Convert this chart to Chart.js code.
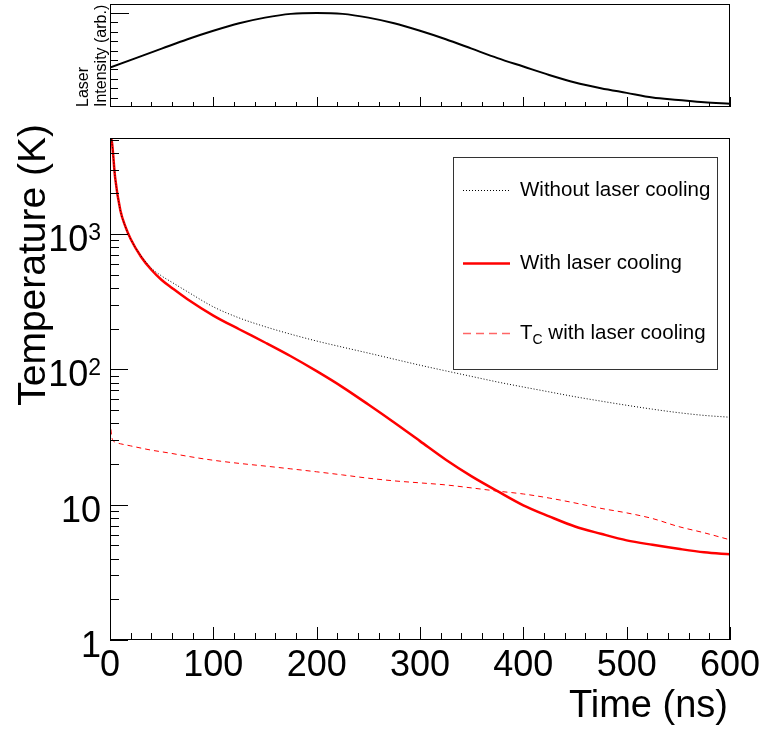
<!DOCTYPE html>
<html lang="en">
<head>
    <meta charset="UTF-8">
    <title>Laser cooling temperature</title>
    <style>
        body { margin: 0; background: #fff; }
        .wrap { position: relative; width: 768px; height: 731px; }
        canvas { position: absolute; left: 0; top: 0; }
    </style>
    <script src="https://cdn.jsdelivr.net/npm/chart.js"></script>
</head>
<body>
<div class="wrap">
    <canvas id="main-chart" width="768" height="731"></canvas>
    <canvas id="laser-chart" width="768" height="115"></canvas>
</div>
<script>
    // time grid (ns) and temperatures (K)
    const timeNs = [0, 2, 5, 10, 15, 20, 30, 40, 50, 60, 75, 100, 125, 150, 175, 200, 225, 250, 275, 300,
                    325, 350, 375, 400, 425, 450, 475, 500, 525, 550, 575, 600];
    const tempWithout = [5600, 4700, 2600, 1500, 1130, 920, 690, 560, 490, 440, 375, 290, 240, 207, 182, 162,
                         146, 132, 119, 107.4, 97.5, 88.7, 80.7, 74.1, 68.2, 62.8, 58.3, 54.3, 50.8, 47.9, 45.7, 44.3];
    const tempWith = [5600, 4700, 2600, 1500, 1130, 920, 680, 545, 458, 400, 330, 250, 198, 158, 125, 97,
                      74, 55, 40.5, 29.5, 21.5, 16.2, 12.6, 9.9, 8.2, 6.9, 6.1, 5.45, 5.05, 4.72, 4.45, 4.3];
    const tempTc = [42, 31, 29, 28.2, 27.7, 27.2, 26.2, 25.3, 24.6, 23.9, 22.8, 21.3, 20.2, 19.3, 18.4, 17.5,
                    16.6, 15.7, 15.0, 14.5, 14.0, 13.3, 12.6, 12.0, 11.2, 10.3, 9.4, 8.7, 7.9, 6.9, 6.2, 5.5];

    // laser intensity pulse (arb.), top panel
    const laserTime = [0, 25, 50, 75, 100, 125, 150, 175, 200, 225, 250, 275, 300, 325, 350, 375, 400,
                       425, 450, 475, 500, 525, 550, 575, 600];
    const laserIntensity = [0.42, 0.52, 0.62, 0.72, 0.81, 0.89, 0.95, 0.99, 1.0, 0.99, 0.95, 0.89, 0.81,
                            0.72, 0.62, 0.52, 0.43, 0.34, 0.26, 0.20, 0.15, 0.10, 0.075, 0.05, 0.035];

    const xTickValues = [0, 100, 200, 300, 400, 500, 600];
    const yTickValues = [1, 10, 100, 1000];
    const yTickBase = ['1', '10', '10', '10'];
    const yTickExp = ['', '', '2', '3'];

    const FONT = '"Liberation Sans", Arial, sans-serif';

    function pts(xs, ys) {
        return xs.map((x, i) => ({x: x, y: ys[i]}));
    }

    // ROOT style frame with ticks pointing into the plot
    const frameTicks = {
        id: 'frameTicks',
        afterDatasetsDraw(chart, args, o) {
            const ctx = chart.ctx, a = chart.chartArea;
            const xs = chart.scales.x, ys = chart.scales.y;
            ctx.save();
            ctx.strokeStyle = '#000';
            ctx.lineWidth = 1;
            ctx.strokeRect(Math.round(a.left) + 0.5, Math.round(a.top) + 0.5,
                Math.round(a.right - a.left) - 1, Math.round(a.bottom - a.top) - 1);
            ctx.beginPath();
            o.xMinor.forEach(v => {
                const len = o.xMajor.includes(v) ? o.xMajorLen : o.xMinorLen;
                const px = Math.round(xs.getPixelForValue(v)) + 0.5;
                ctx.moveTo(px, a.bottom);
                ctx.lineTo(px, a.bottom - len);
            });
            o.yMinor.forEach(v => {
                const len = o.yMajor.includes(v) ? o.yMajorLen : o.yMinorLen;
                const py = Math.round(ys.getPixelForValue(v)) + 0.5;
                ctx.moveTo(a.left, py);
                ctx.lineTo(a.left + len, py);
            });
            ctx.stroke();
            ctx.restore();
        }
    };

    const minorX = [];
    for (let v = 0; v <= 600; v += 20) minorX.push(v);

    // ---------- main panel ----------
    const minorY = [];
    yTickValues.forEach(d => {
        for (let m = 1; m <= 9; m++) if (d * m <= 5130) minorY.push(d * m);
    });

    const mainDecor = {
        id: 'mainDecor',
        afterDraw(chart) {
            const ctx = chart.ctx;
            const xs = chart.scales.x, ys = chart.scales.y;
            ctx.save();
            ctx.fillStyle = '#000';

            // tick labels
            ctx.font = '36px ' + FONT;
            ctx.textAlign = 'center';
            ctx.textBaseline = 'alphabetic';
            xTickValues.forEach(v => {
                ctx.fillText(String(v), xs.getPixelForValue(v), 676);
            });
            ctx.textAlign = 'right';
            yTickValues.forEach((v, i) => {
                const py = ys.getPixelForValue(v);
                let right = 101;
                if (yTickExp[i]) {
                    ctx.font = '23px ' + FONT;
                    ctx.fillText(yTickExp[i], right, py + 6);
                    right -= ctx.measureText(yTickExp[i]).width;
                }
                ctx.font = '36px ' + FONT;
                ctx.fillText(yTickBase[i], right, py + 17);
            });

            // axis titles
            ctx.font = '38px ' + FONT;
            ctx.textAlign = 'right';
            ctx.fillText('Time (ns)', 728, 717);
            ctx.translate(45, 124);
            ctx.rotate(-Math.PI / 2);
            ctx.font = '39px ' + FONT;
            ctx.fillText('Temperature (K)', 0, 0);
            ctx.restore();

            // legend box
            ctx.save();
            ctx.fillStyle = '#fff';
            ctx.fillRect(453, 157, 265, 213);
            ctx.strokeStyle = '#333';
            ctx.lineWidth = 1;
            ctx.strokeRect(453.5, 157.5, 264, 212);

            const rows = [
                {y: 190, color: '#000', width: 1, dash: [1, 2]},
                {y: 263, color: '#ff0000', width: 2.5, dash: []},
                {y: 333, color: 'rgba(255,0,0,0.6)', width: 1.5, dash: [8, 5]}
            ];
            rows.forEach(r => {
                ctx.beginPath();
                ctx.setLineDash(r.dash);
                ctx.strokeStyle = r.color;
                ctx.lineWidth = r.width;
                ctx.moveTo(463, r.y + 0.5);
                ctx.lineTo(510, r.y + 0.5);
                ctx.stroke();
            });
            ctx.setLineDash([]);
            ctx.fillStyle = '#000';
            ctx.textAlign = 'left';
            ctx.textBaseline = 'middle';
            ctx.font = '20.5px ' + FONT;
            ctx.fillText('Without laser cooling', 520, 190);
            ctx.fillText('With laser cooling', 520, 263);
            ctx.fillText('T', 520, 333);
            const tw = ctx.measureText('T').width;
            ctx.font = '14px ' + FONT;
            ctx.fillText('C', 520 + tw, 340);
            const cw = ctx.measureText('C').width;
            ctx.font = '20.5px ' + FONT;
            ctx.fillText(' with laser cooling', 520 + tw + cw, 333);
            ctx.restore();
        }
    };

    new Chart(document.getElementById('main-chart'), {
        type: 'line',
        data: {
            datasets: [{
                label: 'Without laser cooling',
                data: pts(timeNs, tempWithout),
                borderColor: '#000',
                borderWidth: 1,
                borderDash: [1, 2],
                pointRadius: 0,
                cubicInterpolationMode: 'monotone'
            }, {
                label: 'T_C with laser cooling',
                data: pts(timeNs, tempTc),
                borderColor: '#ff0000',
                borderWidth: 1,
                borderDash: [5, 4],
                pointRadius: 0,
                cubicInterpolationMode: 'monotone'
            }, {
                label: 'With laser cooling',
                data: pts(timeNs, tempWith),
                borderColor: '#ff0000',
                borderWidth: 2.5,
                pointRadius: 0,
                cubicInterpolationMode: 'monotone'
            }]
        },
        options: {
            responsive: false,
            animation: false,
            layout: {padding: {top: 138, right: 38, left: 0, bottom: 0}},
            plugins: {
                legend: {display: false},
                tooltip: {enabled: false},
                frameTicks: {
                    xMajor: xTickValues, xMinor: minorX, xMajorLen: 13, xMinorLen: 7,
                    yMajor: yTickValues, yMinor: minorY, yMajorLen: 18, yMinorLen: 9
                }
            },
            scales: {
                x: {
                    type: 'linear',
                    min: 0,
                    max: 600,
                    afterFit: s => { s.height = 91; },
                    grid: {display: false},
                    border: {display: false},
                    ticks: {display: false}
                },
                y: {
                    type: 'logarithmic',
                    min: 1,
                    max: 5130,
                    afterFit: s => { s.width = 110; },
                    grid: {display: false},
                    border: {display: false},
                    ticks: {display: false}
                }
            }
        },
        plugins: [frameTicks, mainDecor]
    });

    // ---------- laser intensity panel ----------
    const laserMinorY = [0.1, 0.2, 0.3, 0.4, 0.5, 0.6, 0.7, 0.8, 0.9, 1.0];

    const laserDecor = {
        id: 'laserDecor',
        afterDraw(chart) {
            const ctx = chart.ctx;
            ctx.save();
            ctx.fillStyle = '#000';
            ctx.font = '16px ' + FONT;
            ctx.textAlign = 'left';
            ctx.textBaseline = 'alphabetic';
            ctx.translate(0, 107);
            ctx.rotate(-Math.PI / 2);
            ctx.fillText('Laser', 0, 88);
            ctx.fillText('Intensity (arb.)', 0, 106);
            ctx.restore();
        }
    };

    new Chart(document.getElementById('laser-chart'), {
        type: 'line',
        data: {
            datasets: [{
                label: 'Laser intensity',
                data: pts(laserTime, laserIntensity),
                borderColor: '#000',
                borderWidth: 2,
                pointRadius: 0,
                cubicInterpolationMode: 'monotone'
            }]
        },
        options: {
            responsive: false,
            animation: false,
            layout: {padding: {top: 4, right: 38, left: 0, bottom: 0}},
            plugins: {
                legend: {display: false},
                tooltip: {enabled: false},
                frameTicks: {
                    xMajor: xTickValues, xMinor: minorX, xMajorLen: 10, xMinorLen: 5,
                    yMajor: [1.0], yMinor: laserMinorY, yMajorLen: 19, yMinorLen: 8
                }
            },
            scales: {
                x: {
                    type: 'linear', min: 0, max: 600,
                    afterFit: s => { s.height = 8; },
                    grid: {display: false}, border: {display: false},
                    ticks: {display: false}
                },
                y: {
                    type: 'linear', min: 0, max: 1.095,
                    afterFit: s => { s.width = 110; },
                    grid: {display: false}, border: {display: false},
                    ticks: {display: false}
                }
            }
        },
        plugins: [frameTicks, laserDecor]
    });
</script>
</body>
</html>
